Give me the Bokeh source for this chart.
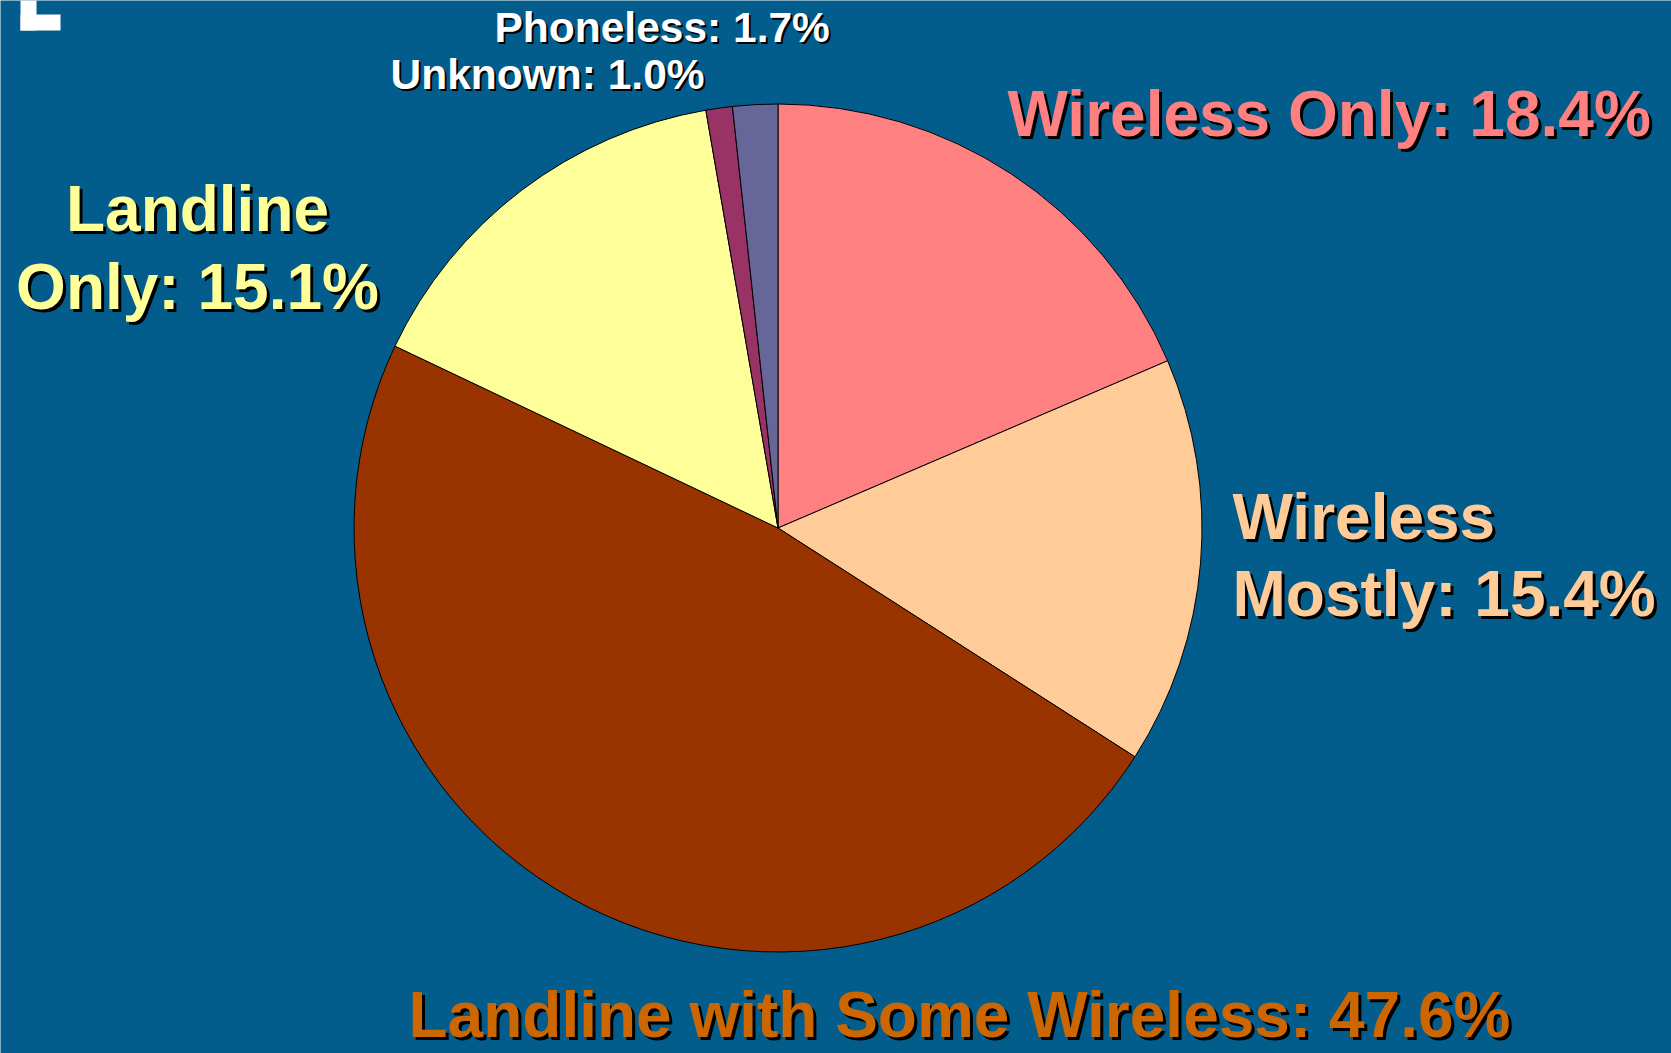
import math
from bokeh.plotting import figure
from bokeh.models import Range1d
from bokeh.core.properties import value
from bokeh.embed import file_html
from bokeh.resources import INLINE

# ---- data ----
categories = ["Wireless Only", "Wireless Mostly", "Landline with Some Wireless",
              "Landline Only", "Unknown", "Phoneless"]
percents = [18.4, 15.4, 47.6, 15.1, 1.0, 1.7]
slice_colors = ["#FF8080", "#FFCC99", "#993300", "#FFFF99", "#993366", "#666699"]
label_colors = ["#FF8080", "#FFCC99", "#CC6600", "#FFFF99", "#FFFFFF", "#FFFFFF"]

W, H = 1671, 1053
BG = "#035D8C"
FONT = value("Liberation Sans")

p = figure(width=W, height=H, output_backend="svg", toolbar_location=None,
           x_range=Range1d(0, W), y_range=Range1d(0, H), min_border=0)
p.axis.visible = False
p.grid.visible = False
p.outline_line_color = None
p.background_fill_color = BG
p.border_fill_color = BG


def Y(y):
    return H - y


# ---- pie ----
cx, cy, r = 777.5, 527.5, 424
total = sum(percents)
starts, ends = [], []
a = math.pi / 2
for v in percents:
    starts.append(a)
    a -= v / total * 2 * math.pi
    ends.append(a)

p.wedge(x=[cx] * len(percents), y=[Y(cy)] * len(percents), radius=r,
        start_angle=starts, end_angle=ends, direction="clock",
        fill_color=slice_colors, line_color="black", line_width=1)

# ---- corner mark ----
p.quad(left=[20, 20], right=[36, 60], top=[Y(-2), Y(14)], bottom=[Y(30), Y(30)],
       fill_color="white", line_color=None)


# ---- labels ----
def label(lines, x, base0, dy, color, size, align, shadow):
    for i, t in enumerate(lines):
        yy = base0 + i * dy - 0.37 * size
        common = dict(text=[t], text_font=FONT, text_font_style="bold",
                      text_font_size=f"{size}px", text_align=align,
                      text_baseline="alphabetic")
        p.text(x=[x + shadow], y=[Y(yy) - shadow], text_color="black", **common)
        p.text(x=[x], y=[Y(yy)], text_color=color, **common)


def lab(i):
    return f"{categories[i]}: {percents[i]:.1f}%"


label([lab(0)], 1007, 137, 0, label_colors[0], 64, "left", 3)
label(["Wireless", f"Mostly: {percents[1]:.1f}%"], 1232, 540, 77, label_colors[1], 64, "left", 3)
label([lab(2)], 408, 1038, 0, label_colors[2], 64, "left", 3)
label(["Landline", f"Only: {percents[3]:.1f}%"], 197, 232, 78, label_colors[3], 64, "center", 3)
label([lab(4)], 390, 90, 0, label_colors[4], 42.5, "left", 2)
label([lab(5)], 494, 43, 0, label_colors[5], 42.5, "left", 2)

open("out.html", "w").write(file_html(p, INLINE))
